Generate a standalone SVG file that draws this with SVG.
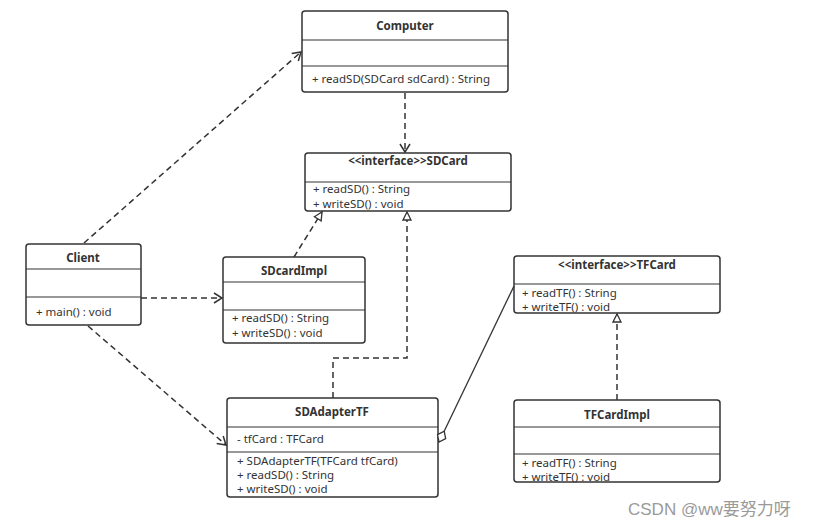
<svg xmlns="http://www.w3.org/2000/svg" width="821" height="527" viewBox="0 0 821 527">
<defs>
<style>
.box{fill:#fff;stroke:#333;stroke-width:1.5}
.sep{stroke:#333;stroke-width:1.2}
.t{font-family:"Noto Sans","Open Sans",sans-serif;font-size:11.5px;fill:#333}
.h{font-family:"Noto Sans","Open Sans",sans-serif;font-size:11.5px;font-weight:bold;fill:#333;text-anchor:middle}
.dash{fill:none;stroke:#333;stroke-width:1.5;stroke-dasharray:6,4}
.solid{fill:none;stroke:#333;stroke-width:1.3}
</style>
<marker id="open" markerUnits="userSpaceOnUse" markerWidth="14" markerHeight="14" refX="9" refY="6" orient="auto">
<path d="M1,1 L9,6 L1,11" fill="none" stroke="#333" stroke-width="1.5"/>
</marker>
<marker id="tri" markerUnits="userSpaceOnUse" markerWidth="14" markerHeight="14" refX="9" refY="5" orient="auto">
<path d="M1,1 L9,5 L1,9 Z" fill="#fff" stroke="#333" stroke-width="1.3"/>
</marker>
<marker id="dia" markerUnits="userSpaceOnUse" markerWidth="18" markerHeight="14" refX="13" refY="6" orient="auto-start-reverse">
<path d="M1,6 L7,1.5 L13,6 L7,10.5 Z" fill="#fff" stroke="#333" stroke-width="1.3"/>
</marker>
</defs>
<rect width="821" height="527" fill="#fff"/>
<g id="connectors">
<path class="dash" d="M84,243 L301,52" marker-end="url(#open)"/>
<path class="dash" d="M405,93 L405,152" marker-end="url(#open)"/>
<path class="dash" d="M294,257 L322,212" marker-end="url(#tri)"/>
<path class="dash" d="M333,398 L333,358 L407,358 L407,212" marker-end="url(#tri)"/>
<path class="dash" d="M141,298 L222,298" marker-end="url(#open)"/>
<path class="dash" d="M88,326 L226,445" marker-end="url(#open)"/>
<path class="dash" d="M617,400 L617,314" marker-end="url(#tri)"/>
</g>
<g id="Computer">
<rect class="box" x="302" y="11" width="206" height="81" rx="3"/>
<line class="sep" x1="302" y1="40" x2="508" y2="40"/>
<line class="sep" x1="302" y1="66" x2="508" y2="66"/>
<text class="h" x="405" y="30">Computer</text>
<text class="t" x="312" y="83">+ readSD(SDCard sdCard) : String</text>
</g>
<g id="SDCard">
<rect class="box" x="305" y="153" width="206" height="58" rx="3"/>
<line class="sep" x1="305" y1="182" x2="511" y2="182"/>
<text class="h" x="408" y="165">&lt;&lt;interface&gt;&gt;SDCard</text>
<text class="t" x="313" y="193">+ readSD() : String</text>
<text class="t" x="313" y="208">+ writeSD() : void</text>
</g>
<g id="Client">
<rect class="box" x="26" y="244" width="115" height="81" rx="3"/>
<line class="sep" x1="26" y1="269" x2="141" y2="269"/>
<line class="sep" x1="26" y1="297" x2="141" y2="297"/>
<text class="h" x="83" y="262">Client</text>
<text class="t" x="36" y="316">+ main() : void</text>
</g>
<g id="SDcardImpl">
<rect class="box" x="223" y="257" width="142" height="86" rx="3"/>
<line class="sep" x1="223" y1="282" x2="365" y2="282"/>
<line class="sep" x1="223" y1="310" x2="365" y2="310"/>
<text class="h" x="294" y="275">SDcardImpl</text>
<text class="t" x="232" y="322">+ readSD() : String</text>
<text class="t" x="232" y="337">+ writeSD() : void</text>
</g>
<g id="TFCard">
<rect class="box" x="514" y="256" width="206" height="57" rx="3"/>
<line class="sep" x1="514" y1="284" x2="720" y2="284"/>
<text class="h" x="617" y="269">&lt;&lt;interface&gt;&gt;TFCard</text>
<text class="t" x="522" y="297">+ readTF() : String</text>
<text class="t" x="522" y="311">+ writeTF() : void</text>
</g>
<g id="SDAdapterTF">
<rect class="box" x="227" y="398" width="211" height="99" rx="3"/>
<line class="sep" x1="227" y1="427" x2="438" y2="427"/>
<line class="sep" x1="227" y1="452" x2="438" y2="452"/>
<text class="h" x="332" y="416">SDAdapterTF</text>
<text class="t" x="237" y="443">- tfCard : TFCard</text>
<text class="t" x="237" y="465">+ SDAdapterTF(TFCard tfCard)</text>
<text class="t" x="237" y="479">+ readSD() : String</text>
<text class="t" x="237" y="493">+ writeSD() : void</text>
</g>
<g id="TFCardImpl">
<rect class="box" x="514" y="400" width="206" height="82" rx="3"/>
<line class="sep" x1="514" y1="427" x2="720" y2="427"/>
<line class="sep" x1="514" y1="454" x2="720" y2="454"/>
<text class="h" x="617" y="419">TFCardImpl</text>
<text class="t" x="522" y="467">+ readTF() : String</text>
<text class="t" x="522" y="481">+ writeTF() : void</text>
</g>
<g id="aggregation">
<path class="solid" d="M439,442 L514,286" marker-start="url(#dia)"/>
</g>
<text x="628" y="515" style="font-family:'Liberation Sans','Noto Sans CJK SC',sans-serif;font-size:17px;fill:#9a9a9a">CSDN @ww要努力呀</text>
</svg>
